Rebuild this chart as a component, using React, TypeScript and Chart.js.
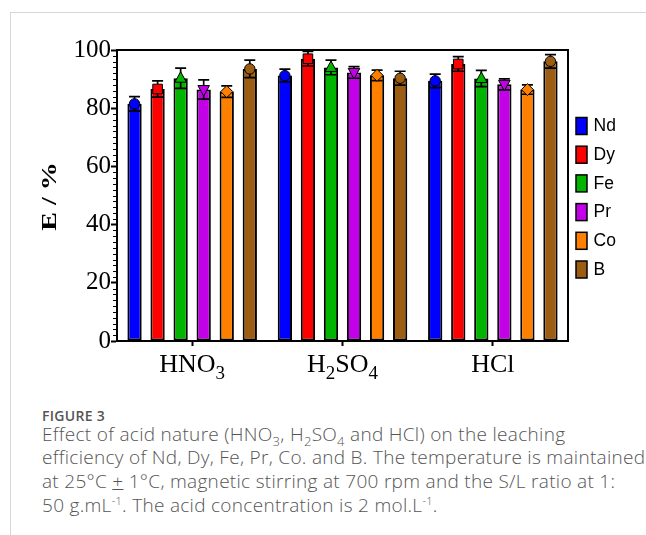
import React, { useEffect, useRef } from "react";
import { Chart, registerables } from "chart.js";

Chart.register(...registerables);

// ---- data ----
const categories = ["HNO₃", "H₂SO₄", "HCl"];
const seriesNames = ["Nd", "Dy", "Fe", "Pr", "Co", "B"];
const ndValues = [81.5, 91.2, 89.4];
const ndErrors = [2.5, 2.2, 2.3];
const dyValues = [86.6, 97.0, 95.2];
const dyErrors = [2.8, 2.5, 2.5];
const feValues = [90.3, 94.0, 90.2];
const feErrors = [3.5, 2.5, 2.8];
const prValues = [86.4, 92.3, 88.2];
const prErrors = [3.3, 2.0, 1.9];
const coValues = [85.7, 91.3, 86.4];
const coErrors = [2.0, 1.8, 1.6];
const bValues = [93.5, 90.3, 96.1];
const bErrors = [3.0, 2.4, 2.3];
const yTicks = [0, 20, 40, 60, 80, 100];
const yTitle = "E / %";

const seriesValues = [ndValues, dyValues, feValues, prValues, coValues, bValues];
const seriesErrors = [ndErrors, dyErrors, feErrors, prErrors, coErrors, bErrors];
const seriesColors = ["#0000FF", "#FF0000", "#00B400", "#C400E8", "#FF8000", "#9C5C12"];
const markerShapes = ["circle", "square", "triangle", "invTriangle", "diamond", "circle"];

const SERIF = '"Liberation Serif", "Times New Roman", serif';

function drawMarker(ctx: CanvasRenderingContext2D, shape: string, x: number, y: number, color: string) {
  ctx.save();
  ctx.fillStyle = color;
  ctx.strokeStyle = "#000";
  ctx.lineWidth = 1;
  ctx.beginPath();
  if (shape === "circle") {
    ctx.arc(x, y, 5.2, 0, Math.PI * 2);
  } else if (shape === "square") {
    ctx.rect(x - 4.8, y - 4.8, 9.6, 9.6);
  } else if (shape === "triangle") {
    ctx.moveTo(x, y - 6.5);
    ctx.lineTo(x + 5.8, y + 4);
    ctx.lineTo(x - 5.8, y + 4);
    ctx.closePath();
  } else if (shape === "invTriangle") {
    ctx.moveTo(x, y + 6.5);
    ctx.lineTo(x + 5.8, y - 4);
    ctx.lineTo(x - 5.8, y - 4);
    ctx.closePath();
  } else if (shape === "diamond") {
    ctx.moveTo(x, y - 6);
    ctx.lineTo(x + 6, y);
    ctx.lineTo(x, y + 6);
    ctx.lineTo(x - 6, y);
    ctx.closePath();
  }
  ctx.fill();
  ctx.stroke();
  ctx.restore();
}

const errorBarPlugin = {
  id: "errorBars",
  afterDatasetsDraw(chart: any) {
    const ctx = chart.ctx as CanvasRenderingContext2D;
    const yScale = chart.scales.y;
    chart.data.datasets.forEach((ds: any, di: number) => {
      const meta = chart.getDatasetMeta(di);
      meta.data.forEach((bar: any, i: number) => {
        const v = ds.data[i];
        const e = ds.errors[i];
        const yt = yScale.getPixelForValue(v + e);
        const yb = yScale.getPixelForValue(v - e);
        ctx.save();
        ctx.strokeStyle = "#000";
        ctx.lineWidth = 1.7;
        ctx.beginPath();
        ctx.moveTo(bar.x, yt);
        ctx.lineTo(bar.x, yb);
        ctx.moveTo(bar.x - 5.5, yt);
        ctx.lineTo(bar.x + 5.5, yt);
        ctx.moveTo(bar.x - 5.5, yb);
        ctx.lineTo(bar.x + 5.5, yb);
        ctx.stroke();
        ctx.restore();
        drawMarker(ctx, ds.marker, bar.x, bar.y, ds.backgroundColor);
      });
    });
  },
};

const SUBS: Record<string, string> = { "₀": "0", "₁": "1", "₂": "2", "₃": "3", "₄": "4", "₅": "5", "₆": "6", "₇": "7", "₈": "8", "₉": "9" };

const framePlugin = {
  id: "frameAndLegend",
  afterDraw(chart: any) {
    const ctx = chart.ctx as CanvasRenderingContext2D;
    const { left, right, top, bottom } = chart.chartArea;
    const yScale = chart.scales.y;
    const xScale = chart.scales.x;
    ctx.save();
    ctx.strokeStyle = "#000";
    ctx.lineWidth = 2;
    ctx.beginPath();
    ctx.moveTo(left, top);
    ctx.lineTo(right, top);
    ctx.lineTo(right, bottom);
    ctx.stroke();
    // minor ticks
    ctx.lineWidth = 1;
    ctx.beginPath();
    for (let v = 2; v < 100; v += 2) {
      if (v % 20 === 0) continue;
      const py = Math.round(yScale.getPixelForValue(v)) + 0.5;
      ctx.moveTo(left - 4, py);
      ctx.lineTo(left, py);
    }
    ctx.stroke();

    // y-axis title (stretched bold serif, rotated)
    ctx.save();
    ctx.translate(50.5, (top + bottom) / 2 + 1);
    ctx.rotate(-Math.PI / 2);
    ctx.scale(1.4, 1);
    ctx.font = `bold 20px ${SERIF}`;
    ctx.fillStyle = "#000";
    ctx.textAlign = "center";
    ctx.textBaseline = "middle";
    ctx.fillText(yTitle, 0, 0);
    ctx.restore();

    // x category labels with real subscripts
    const mainSize = 26;
    const subSize = 19;
    const baseY = 372;
    ctx.fillStyle = "#000";
    ctx.textBaseline = "alphabetic";
    ctx.textAlign = "left";
    (chart.data.labels as string[]).forEach((label, i) => {
      const segs: { t: string; sub: boolean }[] = [];
      for (const ch of Array.from(label)) {
        const sub = ch in SUBS;
        const t = sub ? SUBS[ch] : ch;
        const last = segs[segs.length - 1];
        if (last && last.sub === sub) last.t += t;
        else segs.push({ t, sub });
      }
      let total = 0;
      const widths = segs.map((s) => {
        ctx.font = `${s.sub ? subSize : mainSize}px ${SERIF}`;
        const w = ctx.measureText(s.t).width;
        total += w;
        return w;
      });
      let x = xScale.getPixelForTick(i) - total / 2;
      segs.forEach((s, k) => {
        ctx.font = `${s.sub ? subSize : mainSize}px ${SERIF}`;
        ctx.fillText(s.t, x, s.sub ? baseY + 7 : baseY);
        x += widths[k];
      });
    });

    // legend
    const lx = 576;
    const ly0 = 117.5;
    const step = 28.7;
    ctx.font = '17.5px "Liberation Sans", Arial, sans-serif';
    ctx.textBaseline = "middle";
    ctx.textAlign = "left";
    chart.data.datasets.forEach((ds: any, i: number) => {
      const y = ly0 + i * step;
      ctx.fillStyle = ds.backgroundColor;
      ctx.fillRect(lx, y, 11, 17);
      ctx.strokeStyle = "#000";
      ctx.lineWidth = 1.5;
      ctx.strokeRect(lx, y, 11, 17);
      ctx.fillStyle = "#000";
      ctx.fillText(ds.label, lx + 17.5, y + 9);
    });
    ctx.restore();
  },
};

function ChartView() {
  const ref = useRef<HTMLCanvasElement | null>(null);
  useEffect(() => {
    if (!ref.current) return;
    const datasets = seriesNames.map((name, i) => ({
      label: name,
      data: seriesValues[i],
      errors: seriesErrors[i],
      marker: markerShapes[i],
      backgroundColor: seriesColors[i],
      borderColor: "#000",
      borderWidth: 2,
      borderSkipped: false,
      barPercentage: 0.62,
      categoryPercentage: 0.92,
    }));
    const chart = new Chart(ref.current, {
      type: "bar",
      data: { labels: categories, datasets: datasets as any },
      options: {
        responsive: false,
        animation: false,
        devicePixelRatio: 1,
        layout: { padding: { left: 0, top: 50, right: 78, bottom: 0 } },
        plugins: { legend: { display: false }, tooltip: { enabled: false } },
        scales: {
          x: {
            grid: { display: true, drawOnChartArea: false, offset: false, tickLength: 5, tickColor: "#000", tickWidth: 2 },
            border: { display: true, color: "#000", width: 2 },
            ticks: { display: false },
            afterFit(scale: any) {
              scale.height = 49;
            },
          },
          y: {
            min: 0,
            max: 100,
            afterBuildTicks(scale: any) {
              scale.ticks = yTicks.map((v) => ({ value: v }));
            },
            grid: { display: true, drawOnChartArea: false, tickLength: 6, tickColor: "#000", tickWidth: 2 },
            border: { display: true, color: "#000", width: 2 },
            ticks: {
              color: "#000",
              padding: 0,
              font: { family: SERIF, size: 25 },
            },
            title: { display: false },
            afterFit(scale: any) {
              scale.width = 117;
            },
          },
        },
      },
      plugins: [errorBarPlugin, framePlugin],
    } as any);
    return () => chart.destroy();
  }, []);
  return <canvas ref={ref} width={646} height={390} style={{ position: "absolute", left: 0, top: 0, width: 646, height: 390 }} />;
}

const subStyle: React.CSSProperties = { fontSize: 13, lineHeight: 0 };
const supStyle: React.CSSProperties = { fontSize: 11, lineHeight: 0 };

export default function App() {
  return (
    <div style={{ position: "fixed", left: 0, top: 0, right: 0, bottom: 0, overflow: "hidden", background: "#fff" }}>
      <div
        style={{
          position: "absolute",
          left: 10,
          top: 12,
          right: 0,
          bottom: 0,
          borderTop: "1px solid #d6d6d6",
          borderLeft: "1px solid #d6d6d6",
        }}
      />
      <ChartView />
      <div
        style={{
          position: "absolute",
          left: 42,
          top: 407,
          whiteSpace: "nowrap",
          fontFamily: '"Open Sans", "Noto Sans", sans-serif',
          fontSize: 14,
          fontWeight: 600,
          lineHeight: "18px",
          letterSpacing: 0.3,
          color: "#555",
        }}
      >
        FIGURE 3
      </div>
      <div
        style={{
          position: "absolute",
          left: 42,
          top: 422.5,
          whiteSpace: "nowrap",
          fontFamily: '"Open Sans", "Noto Sans", sans-serif',
          fontSize: 19,
          fontWeight: 300,
          letterSpacing: 0.3,
          lineHeight: "23.7px",
          color: "#555",
        }}
      >
        Effect of acid nature (HNO<sub style={subStyle}>3</sub>, H<sub style={subStyle}>2</sub>SO<sub style={subStyle}>4</sub> and HCl) on the leaching
        <br />
        efficiency of Nd, Dy, Fe, Pr, Co. and B. The temperature is maintained
        <br />
        at 25°C <u>+</u> 1°C, magnetic stirring at 700 rpm and the S/L ratio at 1:
        <br />
        50 g.mL<sup style={supStyle}>-1</sup>. The acid concentration is 2 mol.L<sup style={supStyle}>-1</sup>.
      </div>
    </div>
  );
}
